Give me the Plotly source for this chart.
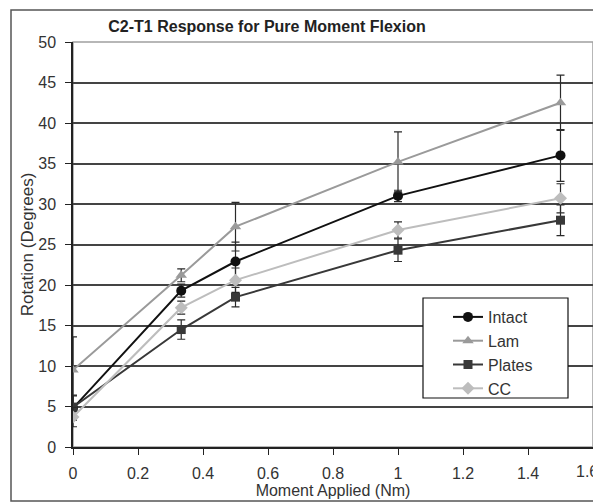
import plotly.graph_objects as go

moment = [0, 0.333, 0.5, 1.0, 1.5]

intact = [4.8, 19.3, 22.9, 31.0, 36.0]
intact_err = [1.5, 0.8, 2.4, 0.7, 3.2]

lam = [9.5, 21.2, 27.2, 35.2, 42.5]
lam_err = [4.1, 0.8, 3.0, 3.7, 3.4]

plates = [4.9, 14.5, 18.5, 24.3, 28.0]
plates_err = [1.5, 1.2, 1.2, 1.4, 1.9]

cc = [3.7, 17.2, 20.6, 26.8, 30.7]
cc_err = [1.2, 0.8, 1.5, 1.0, 1.8]

x_tickvals = [0, 0.2, 0.4, 0.6, 0.8, 1, 1.2, 1.4]
x_ticktext = ["0", "0.2", "0.4", "0.6", "0.8", "1", "1.2", "1.4"]
x_last_tick = 1.6
x_last_text = "1.6"

series = [
    ("Intact", intact, intact_err, "#111111", "circle", 10),
    ("Lam", lam, lam_err, "#9a9a9a", "triangle-up", 10),
    ("Plates", plates, plates_err, "#383838", "square", 9),
    ("CC", cc, cc_err, "#bdbdbd", "diamond", 10),
]

fig = go.Figure()
for name, vals, errs, color, sym, size in series:
    fig.add_trace(go.Scatter(
        x=moment, y=vals, name=name, mode="lines+markers",
        line=dict(color=color, width=2),
        marker=dict(symbol=sym, size=size, color=color),
        error_y=dict(type="data", array=errs, visible=True,
                     color="#2a2a2a", thickness=1.2, width=4),
    ))

# page body has an 8px margin: figure coords = page coords - 8
W, H = 593, 495
L, T, R, B = 65, 34, 8, 56
PW, PH = W - L - R, H - T - B


def px(xp):  # page x -> paper
    return (xp - 8 - L) / PW


def py(yp):  # page y -> paper
    return (H - B - (yp - 8)) / PH


font = "Liberation Sans, Arial, sans-serif"
fig.update_layout(
    width=W, height=H,
    margin=dict(l=L, r=R, t=T, b=B, autoexpand=False),
    paper_bgcolor="white", plot_bgcolor="white",
    font=dict(family=font, size=16, color="#333333"),
    title=dict(text="<b>C2-T1 Response for Pure Moment Flexion</b>",
               x=(267 - 8) / W, xanchor="center", y=1 - (26 - 8) / H, yanchor="middle",
               font=dict(size=16, color="#222222")),
    showlegend=True,
    legend=dict(x=px(448), y=py(300), xanchor="left", yanchor="top",
                bgcolor="rgba(0,0,0,0)", borderwidth=0,
                font=dict(size=16, color="#333333"), tracegroupgap=0,
                itemwidth=30),
    xaxis=dict(range=[0, 1.6], tickvals=x_tickvals + [x_last_tick],
               ticktext=x_ticktext + [""],
               showgrid=False, zeroline=False, automargin=False,
               showline=True, linecolor="#222222", linewidth=1.5,
               ticks="outside", ticklen=6, tickcolor="#222222", ticklabelstandoff=5,
               tickfont=dict(size=16, color="#333333"),
               title=dict(text="Moment Applied (Nm)", font=dict(size=16, color="#333333"), standoff=2)),
    yaxis=dict(range=[0, 50], dtick=5, showgrid=True, gridcolor="#444444", gridwidth=1.5,
               zeroline=False, showline=True, linecolor="#222222", linewidth=1.5,
               automargin=False,
               ticks="outside", ticklen=6, tickcolor="#222222", ticklabelstandoff=6,
               tickfont=dict(size=16, color="#333333"),
               title=dict(text="Rotation (Degrees)", font=dict(size=17, color="#333333"), standoff=0)),
    annotations=[
        dict(x=x_last_tick, xref="x", y=py(471), yref="paper", text=x_last_text,
             showarrow=False, xanchor="center", yanchor="middle", xshift=-6,
             font=dict(size=16, color="#333333")),
    ],
    shapes=[
        dict(type="rect", xref="paper", yref="paper", x0=0, y0=0, x1=1, y1=1,
             line=dict(color="#a0a0a0", width=1.5), layer="below"),
        dict(type="rect", xref="paper", yref="paper",
             x0=px(11), y0=py(501), x1=px(600), y1=py(10),
             line=dict(color="#555555", width=1.5), layer="below"),
        dict(type="rect", xref="paper", yref="paper",
             x0=px(423), y0=py(398), x1=px(568), y1=py(298),
             fillcolor="white", line=dict(color="#111111", width=1.2), layer="above"),
    ],
)

fig.write_html("out.html")
